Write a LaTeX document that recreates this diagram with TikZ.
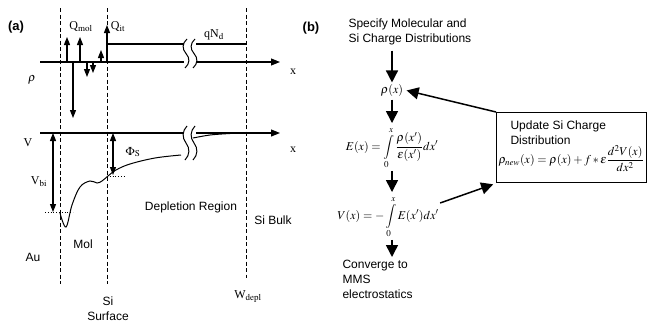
\documentclass[tikz,border=0pt]{standalone}
\usepackage{mathptmx}
\usepackage{fontspec}
\setmainfont{Liberation Serif}
\setsansfont{Liberation Sans}
\usetikzlibrary{arrows.meta,positioning}

% axis break: two wavy strokes
\newcommand{\brkmark}[3]{%
  \foreach \bx in {#1,#1+8}
    \draw[line width=1pt, shift={(\bx,#2)}, yscale={#3-#2}]
      (1,0) .. controls (-4,0.15) and (-4,0.35) .. (0,0.5)
            .. controls (4,0.65) and (4,0.85) .. (-1,1);}

\begin{document}
\begin{tikzpicture}[x=1pt, y=-1pt, line width=1.1pt,
  lbl/.style={font=\fontsize{12}{14}\selectfont, inner sep=1pt},
  txt/.style={font=\sffamily\fontsize{12}{15}\selectfont, align=left, inner sep=1pt},
  tag/.style={font=\sffamily\bfseries\fontsize{13}{15}\selectfont},
  dashln/.style={line width=0.9pt, dash pattern=on 4pt off 2.5pt},
  tip/.style={-{Triangle[width=6pt,length=8pt]}},
  flow/.style={line width=1.5pt, -{Triangle[width=12pt,length=12pt]}},
  mth/.style={font=\fontsize{12}{14}\selectfont, inner sep=1pt}]

\useasboundingbox (0,0) rectangle (647,324);

% ---- panel (a) ----
\node[tag] (tagA) at (16,27) {(a)};
\foreach \xd/\yb in {60/284,107/284,246/278}
  \draw[dashln] (\xd,8) -- (\xd,\yb);

% charge density
\draw (40,62) -- (184,62);
\draw[-{Triangle[width=7pt,length=9pt]}] (196,62) -- (280,62);
\draw (107,44) -- (184,44);
\draw (196,44) -- (246,44);
\brkmark{186}{39}{68}
\foreach \xa/\ya in {67/37,80/37,73/118,87/77,93/73,101/50,107/25}
  \draw[tip] (\xa,62) -- (\xa,\ya);
\node[lbl] (qmol) at (81,27) {Q$_{\mathrm{mol}}$};
\node[lbl] (qit) at (118,27) {Q$_{\mathrm{it}}$};
\node[lbl] (qnd) at (214,35) {qN$_{\mathrm{d}}$};
\node[lbl] (rholbl) at (32,80) {$\rho$};
\node[lbl] (xa) at (293,72) {x};

% potential
\draw (40,133) -- (184,133);
\draw[-{Triangle[width=7pt,length=9pt]}] (196,133) -- (280,133);
\draw[line width=1pt] plot[smooth, tension=0.6] coordinates {(60,213) (66,227) (72,205) (80,187)
  (90,181) (97,183) (102,181) (108,176) (116,170) (130,164) (155,158) (181,155)};
\draw[line width=1pt] plot[smooth] coordinates {(193,138) (210,135) (230,133.5) (246,133)};
\brkmark{186}{126}{160}
\draw[{Triangle[width=6pt,length=8pt]}-{Triangle[width=6pt,length=8pt]}] (53,133) -- (53,212);
\draw[dotted, line width=0.8pt] (45,212) -- (73,212);
\draw[{Triangle[width=6pt,length=8pt]}-{Triangle[width=6pt,length=8pt]}] (113,133) -- (113,175);
\draw[dotted, line width=0.8pt] (107,176) -- (126,176);
\node[lbl] (vlbl) at (28,143) {V};
\node[lbl] (xb) at (293,150) {x};
\node[lbl] (vbi) at (39,182) {V$_{\mathrm{bi}}$};
\node[lbl] (phis) at (133,152) {$\Phi_{\mathrm{S}}$};

% regions
\node[txt] (au) at (33,257) {Au};
\node[txt] (mol) at (83,244) {Mol};
\node[txt] (depl) at (191,207) {Depletion Region};
\node[txt] (bulk) at (273,220) {Si Bulk};
\node[txt, align=center] (surf) at (108,309) {Si\\Surface};
\node[lbl] (wdepl) at (248,297) {W$_{\mathrm{depl}}$};

% ---- panel (b) ----
\node[tag] (tagB) at (311,28) {(b)};
\node[txt, anchor=west] (spec) at (347,32) {Specify Molecular and\\Si Charge Distributions};
\node[mth] (rho) at (392,90) {$\rho(x)$};
\node[mth] (efld) at (392,148) {$\displaystyle E(x)=\int\limits_0^x\frac{\rho(x')}{\varepsilon(x')}dx'$};
\node[mth] (pot) at (388,217) {$\displaystyle V(x)=-\int\limits_0^x E(x')dx'$};
\node[txt, anchor=north west] (conv) at (341,259) {Converge to\\MMS\\electrostatics};
\node[draw, line width=1.3pt, anchor=north west, inner sep=0pt,
  minimum width=150pt, minimum height=70pt] (upd) at (496,112) {};
\node[txt, anchor=north west] (updtxt) at ([xshift=13pt,yshift=-7pt]upd.north west)
  {Update Si Charge\\Distribution};
\node[mth, anchor=west] (updeq) at ([xshift=1pt,yshift=-11pt]upd.west)
  {$\displaystyle\rho_{new}(x)=\rho(x)+f*\varepsilon\frac{d^2V(x)}{dx^2}$};

\draw[flow] ([yshift=-4pt]spec.south -| rho) -- (rho.north);
\draw[flow, shorten <=2pt, shorten >=3pt] (rho.south) -- (efld.north);
\draw[flow, shorten <=1pt, shorten >=3pt] (efld.south) -- (pot.north -| efld);
\draw[flow, shorten <=1pt, shorten >=2pt] (pot.south -| efld) -- (conv.north -| efld);
\draw[flow, shorten >=2pt] (upd.north west) -- (rho.east);
\draw[flow, shorten >=3pt] ([yshift=14pt]pot.east) -- (upd.south west);
\end{tikzpicture}
\end{document}
